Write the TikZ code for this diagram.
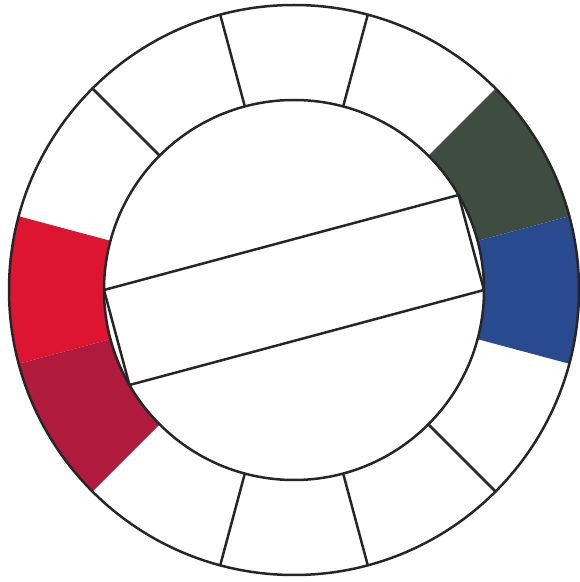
\documentclass[tikz,border=0pt]{standalone}
\usepackage{xcolor}
\definecolor{wheelgreen}{HTML}{3F4C41}
\definecolor{wheelblue}{HTML}{294A8E}
\definecolor{wheelred}{HTML}{DD1530}
\definecolor{wheelcrimson}{HTML}{B01A3D}

\begin{document}
\begin{tikzpicture}[
            x=1pt, y=1pt,
            ring/.style={draw=black!85, line width=2.5pt},
            spoke/.style={draw=black!85, line width=2.5pt, line join=round}
        ]
            \useasboundingbox (0,0) rectangle (580,582);
            \coordinate (c) at (294,292);
            % coloured fields of the ring
            \foreach \from/\to/\col in {15/45/wheelgreen, -15/15/wheelblue, 165/195/wheelred, 195/225/wheelcrimson}
                \fill[\col] ([shift={(\from:190)}]c) arc[start angle=\from, end angle=\to, radius=190]
                    -- ([shift={(\to:285)}]c) arc[start angle=\to, end angle=\from, radius=285] -- cycle;
            % dividers between the white fields
            \foreach \a in {75,105,135,255,285,315}
                \draw[spoke] ([shift={(\a:190)}]c) -- ([shift={(\a:285)}]c);
            \draw[ring] (c) circle[radius=285];
            \draw[ring] (c) circle[radius=190];
            % rectangle in the inner circle
            \foreach \a/\n in {0/br, 30/tr, 180/tl, 210/bl}
                \coordinate (\n) at ([shift={(\a:190)}]c);
            \draw[spoke] (tl) -- (tr) -- (br) -- (bl) -- cycle;
        \end{tikzpicture}
\end{document}
